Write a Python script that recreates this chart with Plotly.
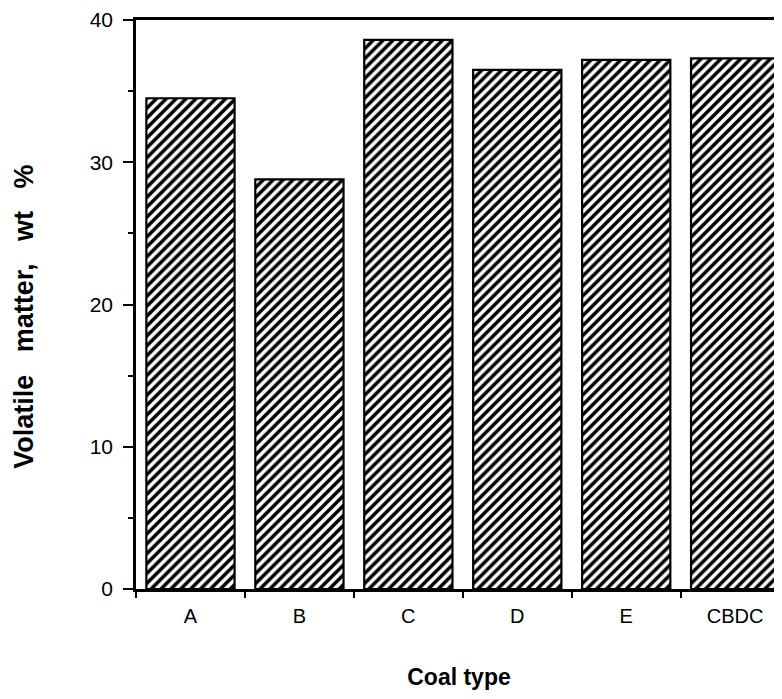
import plotly.graph_objects as go

categories = ["A", "B", "C", "D", "E", "CBDC"]
volatile_matter = [34.5, 28.8, 38.6, 36.5, 37.2, 37.3]
y_ticks = [0, 10, 20, 30, 40]

fig = go.Figure()
fig.add_trace(go.Bar(
    x=categories,
    y=volatile_matter,
    width=0.81,
    marker=dict(
        color="white",
        line=dict(color="black", width=2.2),
        pattern=dict(shape="/", fgcolor="black", bgcolor="white", fgopacity=1,
                     size=7, solidity=0.5),
    ),
))

font_family = "Liberation Sans, Arial, Helvetica, sans-serif"
sp = "\u00a0" * 3

fig.update_layout(
    width=774, height=691,
    margin=dict(l=128, r=0, t=9, b=110),
    plot_bgcolor="white", paper_bgcolor="white",
    showlegend=False,
    font=dict(family=font_family, color="black", size=16),
    xaxis=dict(
        type="category",
        range=[-0.5, 5.43],
        showline=True, linecolor="black", linewidth=2.5,
        mirror=True,
        ticks="outside", tickson="boundaries", ticklen=6, tickwidth=2, tickcolor="black",
        tickfont=dict(size=20),
        ticklabelstandoff=7,
        showgrid=False, zeroline=False,
        title=dict(text="<b>Coal type</b>", font=dict(size=23), standoff=44),
    ),
    yaxis=dict(
        range=[0, 40],
        tickvals=y_ticks,
        showline=True, linecolor="black", linewidth=2.5,
        ticks="outside", ticklen=10, tickwidth=2, tickcolor="black",
        minor=dict(ticks="outside", ticklen=5, tickwidth=2, tickcolor="black", dtick=5, showgrid=False),
        tickfont=dict(size=21),
        ticklabelstandoff=6,
        ticklabeloverflow="allow",
        showgrid=False, zeroline=False,
    ),
    annotations=[dict(
        text=f"<b>Volatile{sp}matter,{sp}wt{sp}%</b>",
        xref="paper", yref="paper", x=-0.173, y=0.479,
        xanchor="center", yanchor="middle", textangle=-90, showarrow=False,
        font=dict(size=27),
    )],
)

fig.write_html("out.html")
